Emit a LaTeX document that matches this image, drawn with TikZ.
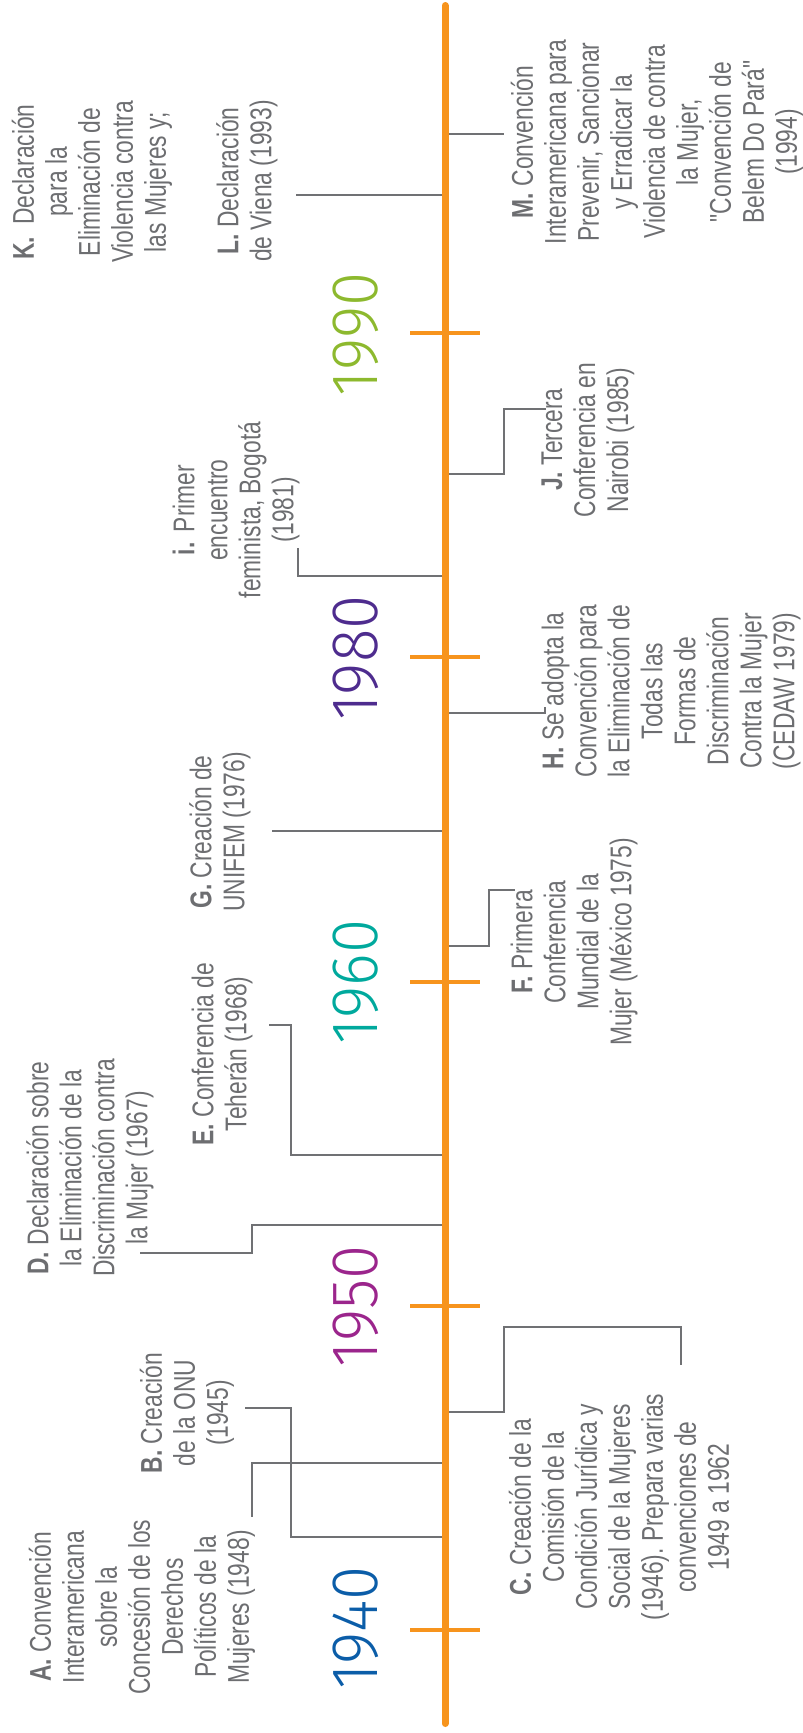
\documentclass[tikz,border=0pt]{standalone}
\usepackage{fontspec}
\setmainfont{Liberation Sans}[FakeStretch=0.76]
\newfontfamily\plainq{Liberation Sans}[FakeStretch=0.76]
\newfontfamily\yearfont{Fira Sans Light}[FakeStretch=0.94]

\definecolor{axisorange}{HTML}{F7941D}
\definecolor{txtgray}{HTML}{6D6E71}
\definecolor{linegray}{HTML}{707174}
\definecolor{y40}{HTML}{0B5DA8}
\definecolor{y50}{HTML}{9B258C}
\definecolor{y60}{HTML}{00A99D}
\definecolor{y80}{HTML}{4E2C8E}
\definecolor{y90}{HTML}{8DB92E}
\newcommand{\sq}{{\plainq"}}
\frenchspacing

\begin{document}
\begin{tikzpicture}[x=1pt,y=-1pt,
  evt/.style={rotate=90, text=txtgray, align=center, inner sep=0pt,
    font=\fontsize{30}{33}\selectfont},
  yr/.style={rotate=90, inner sep=0pt, font=\yearfont\fontsize{66}{66}\selectfont},
  conn/.style={draw=linegray, line width=2.8pt},
  axis/.style={draw=axisorange, line width=7pt, line cap=round},
  tick/.style={draw=axisorange, line width=3.5pt}]
\useasboundingbox (0,0) rectangle (803,1733);

% connectors (drawn first, the axis covers their inner ends)
\coordinate (sA) at (445,1463); \coordinate (eA) at (252,1517);
\coordinate (sB) at (445,1537); \coordinate (eB) at (245,1408);
\coordinate (sC) at (445,1412); \coordinate (eC) at (681,1365);
\coordinate (sD) at (445,1225); \coordinate (eD) at (140,1253);
\coordinate (sE) at (445,1155); \coordinate (eE) at (269,1025);
\coordinate (sF) at (445,946);  \coordinate (eF) at (515,890);
\coordinate (sG) at (445,831);  \coordinate (eG) at (272,831);
\coordinate (sH) at (445,713);  \coordinate (eH) at (545,707);
\coordinate (sI) at (445,576);  \coordinate (eI) at (298,548);
\coordinate (sJ) at (445,474);  \coordinate (eJ) at (546,409);
\coordinate (sL) at (445,195);  \coordinate (eL) at (296,195);
\coordinate (sM) at (445,134);  \coordinate (eM) at (504,134);

\draw[conn] (sA) -| (eA);
\draw[conn] (sB) -| (291,1408) -- (eB);
\draw[conn] (sC) -| (504,1327) -| (eC);
\draw[conn] (sD) -| (252,1253) -- (eD);
\draw[conn] (sE) -| (291,1025) -- (eE);
\draw[conn] (sF) -| (489,890) -- (eF);
\draw[conn] (sG) -- (eG);
\draw[conn] (sH) -| (eH);
\draw[conn] (sI) -| (eI);
\draw[conn] (sJ) -| (504,409) -- (eJ);
\draw[conn] (sL) -- (eL);
\draw[conn] (sM) -- (eM);

% time axis with decade ticks
\coordinate (top) at (445,5.5);
\coordinate (bot) at (445,1723.5);
\draw[axis] (top) -- (bot);
\foreach \yy in {1630, 1306, 982, 657, 333}{
  \draw[tick] (410,\yy) -- (480,\yy);
}

% decade labels
\node[yr, text=y40] (d40) at (356,1628) {1940};
\node[yr, text=y50] (d50) at (356,1306) {1950};
\node[yr, text=y60] (d60) at (356,982)  {1960};
\node[yr, text=y80] (d80) at (356,658)  {1980};
\node[yr, text=y90] (d90) at (356,334)  {1990};

% events
\node[evt] (A) at (142,1607) {\textbf{A.} Convención\\Interamericana\\sobre la\\Concesión de los\\Derechos\\Políticos de la\\Mujeres (1948)};
\node[evt] (B) at (187,1413) {\textbf{B.} Creación\\de la ONU\\(1945)};
\node[evt] (C) at (619,1507) {\textbf{C.} Creación de la\\Comisión de la\\Condición Jurídica y\\Social de la Mujeres\\(1946). Prepara varias\\convenciones de\\1949 a 1962};
\node[evt] (D) at (90,1168) {\textbf{D.} Declaración sobre\\la Eliminación de la\\Discriminación contra\\la Mujer (1967)};
\node[evt] (E) at (222,1054) {\textbf{E.} Conferencia de\\Teherán (1968)};
\node[evt] (F) at (574,942) {\textbf{F.} Primera\\Conferencia\\Mundial de la\\Mujer (México 1975)};
\node[evt] (G) at (220,832) {\textbf{G.} Creación de\\UNIFEM (1976)};
\node[evt] (H) at (671,691) {\textbf{H.} Se adopta la\\Convención para\\la Eliminación de\\Todas las\\Formas de\\Discriminación\\Contra la Mujer\\(CEDAW 1979)};
\node[evt] (I) at (236,510) {\textbf{i.}\hspace{4pt} Primer\\encuentro\\feminista, Bogotá\\(1981)};
\node[evt] (J) at (588,440) {\textbf{J.} Tercera\\Conferencia en\\Nairobi (1985)};
\node[evt] (K) at (92,182) {\textbf{K.}\hspace{12pt}Declaración\\para la\\Eliminación de\\Violencia contra\\las Mujeres y;};
\node[evt] (L) at (247,181) {\textbf{L.} Declaración\\de Viena (1993)};
\node[evt] (M) at (657,142) {\textbf{M.} Convención\\Interamericana para\\Prevenir, Sancionar\\y Erradicar la\\Violencia de contra\\la Mujer,\\\sq Convención de\\Belem Do Pará\sq\\(1994)};
\end{tikzpicture}
\end{document}
